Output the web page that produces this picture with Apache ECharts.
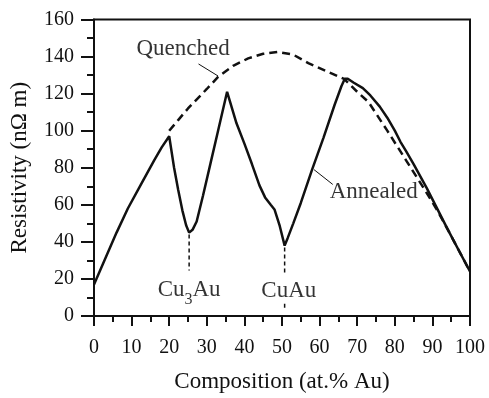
<!DOCTYPE html>
<html>
<head>
<meta charset="utf-8">
<title>Resistivity of Cu-Au</title>
<script src="https://cdn.jsdelivr.net/npm/echarts@6/dist/echarts.min.js"></script>
<style>
  html, body { margin: 0; padding: 0; background: #fff; }
  #chart { width: 489px; height: 398px; }
</style>
</head>
<body>
<div id="chart"></div>
<script>
    // 退火曲线 (at.% Au, nΩ m)
    const annealed = [
        [0, 17], [3, 31], [6, 45], [9, 58], [12.5, 71], [16, 84], [18, 91], [20, 97],
        [21.3, 80], [22.4, 68], [23.5, 57], [24.5, 49], [25.3, 45], [26.2, 46.5], [27.3, 51],
        [29, 65], [31, 82.5], [33, 100], [35, 117.5], [35.4, 121],
        [37.9, 104], [40, 93], [42, 82], [44, 70.5], [45.5, 64], [47, 60], [48, 57.5], [49.4, 48.6], [50.7, 38],
        [51.5, 42], [53, 50], [55, 61], [58, 79], [61, 96], [64, 114], [65.8, 124], [66.7, 128],
        [67.5, 128], [69, 126], [71.5, 123], [73.5, 119], [76, 113], [78, 107], [80, 100],
        [81.5, 94], [83, 89], [85, 82], [88.5, 69], [91, 59], [94, 47], [97, 35.5], [100, 24]
    ];

    // 淬火曲线
    const quenched = [
        [20, 100], [22.5, 106], [25, 112], [30, 122.5], [33, 129], [37, 135], [41, 139],
        [45, 141.5], [49, 142.5], [53, 141], [57, 136.5], [62.5, 131.5], [66.5, 128],
        [70, 121], [73, 115.5], [78, 100], [83, 84], [88, 68], [91, 58], [94, 47],
        [97, 35.5], [100, 24]
    ];

    // 有序相位置的竖直虚线
    const cu3auMark = [[25.3, 44], [25.3, 24.5]];
    const cuauMarkTop = [[50.7, 37], [50.7, 23.5]];
    const cuauMarkBottom = [[50.7, 6.6], [50.7, 3.8]];

    // 标注引线
    const quenchedLeader = [[27.8, 136], [33, 129.5]];
    const annealedLeader = [[58.5, 79], [63.5, 71]];

    // 坐标轴
    const xTicks = [0, 10, 20, 30, 40, 50, 60, 70, 80, 90, 100];
    const yTicks = [0, 20, 40, 60, 80, 100, 120, 140, 160];

    const font = 'Liberation Serif';
    const ink = '#111';

    const chart = echarts.init(document.getElementById('chart'));

    function guide(data, width, dash) {
        return {
            type: 'line',
            data: data,
            symbol: 'none',
            silent: true,
            lineStyle: { color: ink, width: width, type: dash }
        };
    }

    function note(x, y, text) {
        return { value: [x, y], label: { formatter: text } };
    }

    const option = {
        animation: false,
        backgroundColor: '#fff',
        grid: {
            left: 92,
            right: 19,
            top: 19.5,
            bottom: 75.5,
            show: true,
            borderColor: ink,
            borderWidth: 2
        },
        xAxis: {
            type: 'value',
            min: xTicks[0],
            max: xTicks[xTicks.length - 1],
            interval: 10,
            name: 'Composition (at.% Au)',
            nameLocation: 'middle',
            nameGap: 54,
            nameTextStyle: { fontFamily: font, fontSize: 23, color: ink },
            axisLine: { lineStyle: { color: ink, width: 2 } },
            axisTick: { length: 10, lineStyle: { color: ink, width: 2 } },
            minorTick: { show: true, splitNumber: 2, length: 6, lineStyle: { color: ink, width: 2 } },
            splitLine: { show: false },
            axisLabel: { fontFamily: font, fontSize: 20, color: ink, margin: 22 }
        },
        yAxis: {
            type: 'value',
            min: yTicks[0],
            max: yTicks[yTicks.length - 1],
            interval: 20,
            name: 'Resistivity (nΩ m)',
            nameLocation: 'middle',
            nameGap: 63,
            nameTextStyle: { fontFamily: font, fontSize: 23, color: ink },
            axisLine: { lineStyle: { color: ink, width: 2 } },
            axisTick: { length: 13, lineStyle: { color: ink, width: 2 } },
            minorTick: { show: true, splitNumber: 2, length: 7, lineStyle: { color: ink, width: 2 } },
            splitLine: { show: false },
            axisLabel: { fontFamily: font, fontSize: 20, color: ink, margin: 20 }
        },
        series: [
            {
                name: 'Quenched',
                type: 'line',
                data: quenched,
                symbol: 'none',
                lineStyle: { color: ink, width: 2.5, type: [8, 5] }
            },
            {
                name: 'Annealed',
                type: 'line',
                data: annealed,
                symbol: 'none',
                lineStyle: { color: ink, width: 2.5 }
            },
            guide(cu3auMark, 1.5, [4, 3]),
            guide(cuauMarkTop, 1.5, [4, 3]),
            guide(cuauMarkBottom, 1.5, [4, 3]),
            guide(quenchedLeader, 1, 'solid'),
            guide(annealedLeader, 1, 'solid'),
            {
                // 文字标注
                type: 'scatter',
                symbolSize: 0,
                silent: true,
                itemStyle: { color: ink },
                label: {
                    show: true,
                    position: 'inside',
                    fontFamily: font,
                    fontSize: 23,
                    color: '#000',
                    textBorderWidth: 0,
                    rich: {
                        a: { fontFamily: font, fontSize: 23, color: '#000', lineHeight: 24, verticalAlign: 'top' },
                        s: { fontFamily: font, fontSize: 16, color: '#000', lineHeight: 29, verticalAlign: 'bottom' }
                    }
                },
                data: [
                    note(23.7, 144, 'Quenched'),
                    note(74.4, 67.2, 'Annealed'),
                    note(25.3, 12.4, '{a|Cu}{s|3}{a|Au}'),
                    note(51.8, 13.4, 'CuAu')
                ]
            }
        ]
    };

    chart.setOption(option);
</script>
</body>
</html>
